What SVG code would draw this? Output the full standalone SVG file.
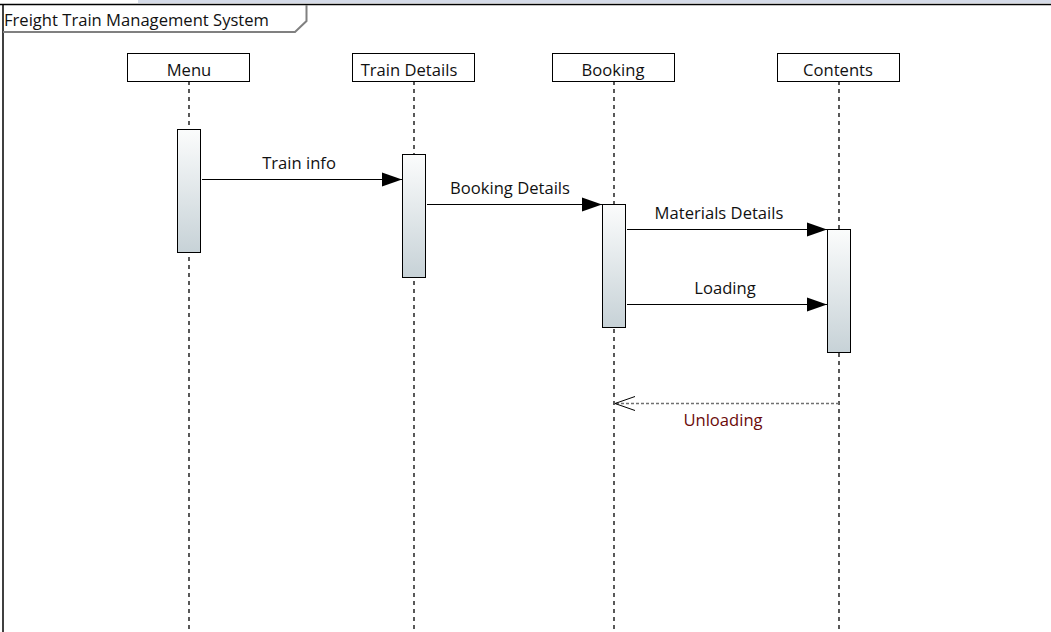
<svg xmlns="http://www.w3.org/2000/svg" width="1051" height="632" viewBox="0 0 1051 632">
<style>
.t{font-family:"Open Sans","Noto Sans","Liberation Sans",sans-serif;font-size:16.6px;fill:#111;text-anchor:middle}
.hd{fill:#fff;stroke:#000;stroke-width:1}
.ll{stroke:#000;stroke-width:1.3;stroke-dasharray:4,4;fill:none}
.act{fill:url(#g);stroke:#000;stroke-width:1}
.msg{stroke:#000;stroke-width:1.2;fill:none;marker-end:url(#ah)}
</style>
<defs>
<linearGradient id="g" x1="0" y1="0" x2="0" y2="1">
<stop offset="0" stop-color="#fbfcfc"/>
<stop offset="1" stop-color="#c7d2d7"/>
</linearGradient>
<marker id="ah" markerWidth="20" markerHeight="16" refX="20" refY="8" orient="auto" markerUnits="userSpaceOnUse">
<path d="M0,1 L20,8 L0,15 Z" fill="#000"/>
</marker>
<marker id="oa" markerWidth="22" markerHeight="16" refX="21" refY="8" orient="auto" markerUnits="userSpaceOnUse">
<path d="M1,1 L21,8 L1,15" fill="none" stroke="#000" stroke-width="1"/>
</marker>
</defs>
<rect x="0" y="0" width="1051" height="632" fill="#fff"/>
<rect x="138" y="0" width="913" height="3" fill="#d5dbe8"/>
<g id="frame">
<line x1="0" y1="4.5" x2="1051" y2="4.5" stroke="#000" stroke-width="1.5"/>
<line x1="3" y1="4" x2="3" y2="632" stroke="#000" stroke-width="1.5"/>
<path d="M3,32 L295,32 L306.5,21 L306.5,5" fill="none" stroke="#808080" stroke-width="2"/>
<text x="4" y="26" class="t" style="text-anchor:start">Freight Train Management System</text>
</g>
<g id="menu">
<line class="ll" x1="189" y1="81" x2="189" y2="632"/>
<rect class="hd" x="127.5" y="53.5" width="122" height="28"/>
<text class="t" x="189" y="76">Menu</text>
<rect class="act" x="177.5" y="129.5" width="23" height="123"/>
</g>
<g id="train-details">
<line class="ll" x1="414" y1="81" x2="414" y2="632"/>
<rect class="hd" x="352.5" y="53.5" width="122" height="28"/>
<text class="t" x="409" y="76">Train Details</text>
<rect class="act" x="402.5" y="154.5" width="23" height="123"/>
</g>
<g id="booking">
<line class="ll" x1="614" y1="81" x2="614" y2="632"/>
<rect class="hd" x="552.5" y="53.5" width="122" height="28"/>
<text class="t" x="613" y="76">Booking</text>
<rect class="act" x="602.5" y="204.5" width="23" height="123"/>
</g>
<g id="contents">
<line class="ll" x1="839" y1="81" x2="839" y2="632"/>
<rect class="hd" x="777.5" y="53.5" width="122" height="28"/>
<text class="t" x="838" y="76">Contents</text>
<rect class="act" x="827.5" y="229.5" width="23" height="123"/>
</g>
<g id="connectors">
<line class="msg" x1="202" y1="179.5" x2="402" y2="179.5"/>
<text class="t" x="299" y="169">Train info</text>
<line class="msg" x1="427" y1="204.5" x2="602" y2="204.5"/>
<text class="t" x="510" y="194">Booking Details</text>
<line class="msg" x1="627" y1="229.5" x2="827" y2="229.5"/>
<text class="t" x="719" y="219">Materials Details</text>
<line class="msg" x1="627" y1="304.5" x2="827" y2="304.5"/>
<text class="t" x="725" y="294">Loading</text>
<line x1="839" y1="403.5" x2="615" y2="403.5" stroke="#707070" stroke-width="1.3" stroke-dasharray="3,2" marker-end="url(#oa)"/>
<text class="t" x="723" y="426" style="fill:#6b0a0a">Unloading</text>
</g>
</svg>
